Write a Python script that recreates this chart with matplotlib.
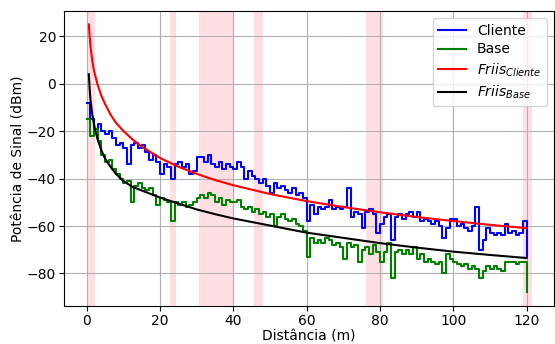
"""
Potência de sinal x distância — medições (Cliente/Base) e modelo de Friis
"""

import numpy as np
import matplotlib
matplotlib.use("Agg")
import matplotlib.pyplot as plt

# ── dados ──────────────────────────────────────────────────────────────
distancia = np.arange(0, 121, 1.0)  # amostras a cada 1 m

cliente = [
    -8, -15, -19, -17, -20, -21, -20, -23, -26, -25,
    -27, -34, -26, -25, -27, -26, -29, -32, -30, -33,
    -38, -34, -35, -40, -34, -33, -35, -34, -38, -37,
    -31, -31, -33, -30, -34, -35, -33, -36, -34, -35,
    -36, -33, -35, -40, -37, -39, -40, -42, -40, -43,
    -46, -42, -44, -43, -45, -46, -44, -47, -46, -48,
    -58, -51, -55, -52, -53, -52, -49, -53, -52, -53,
    -52, -44, -56, -54, -55, -61, -54, -53, -55, -63,
    -59, -56, -55, -66, -56, -55, -57, -55, -54, -56,
    -54, -58, -57, -58, -59, -58, -60, -65, -61, -57,
    -57, -60, -59, -61, -62, -60, -52, -70, -66, -61,
    -63, -64, -63, -64, -59, -63, -62, -64, -63, -58,
    -73,
]

base = [
    -15, -22, -19, -24, -30, -33, -32, -36, -38, -40,
    -42, -41, -50, -43, -42, -44, -45, -44, -47, -51,
    -48, -49, -50, -58, -50, -51, -50, -52, -51, -50,
    -48, -47, -48, -46, -47, -50, -48, -51, -49, -50,
    -50, -49, -52, -53, -52, -54, -53, -55, -54, -56,
    -55, -60, -56, -55, -57, -58, -57, -59, -60, -62,
    -73, -65, -67, -66, -67, -65, -66, -68, -67, -69,
    -74, -67, -69, -68, -75, -70, -69, -72, -68, -71,
    -75, -71, -67, -82, -71, -70, -72, -70, -72, -69,
    -74, -72, -75, -74, -75, -76, -75, -80, -72, -74,
    -75, -76, -77, -76, -78, -77, -78, -82, -79, -77,
    -78, -77, -78, -79, -75, -75, -75, -76, -75, -75,
    -88,
]

# curvas de Friis
d_friis = [0.6, 0.8, 1.0, 1.5, 2.0, 2.5, 3.0, 4.0, 5.0, 6.5, 8.0, 10, 12.5,
           15, 20, 25, 30, 35, 40, 50, 60, 70, 80, 90, 100, 110, 120]
friis_cliente = [25, 20.5, 16.5, 10, 5.5, 2.5, -0.5, -5, -8.5, -13, -16.5, -19.9, -23.5,
                 -26.5, -31.3, -35, -38, -40.6, -42.8, -46.5, -49.5, -52, -54.2,
                 -56.2, -57.9, -59.5, -60.9]
friis_base = [4, -1.5, -6, -12.5, -17, -20.5, -23.5, -28, -31.5, -35, -38, -41, -43.5,
              -45, -48, -50.5, -53, -55, -56.8, -59.8, -62.8, -65, -67.2,
              -69.1, -70.8, -72.2, -73.5]

# trechos destacados (m)
faixa_ini = [0.2, 22.7, 30.6, 45.6, 76.2, 119.0]
faixa_fim = [2.2, 24.5, 40.1, 48.1, 80.9, 121.4]

# ── gráfico ────────────────────────────────────────────────────────────
fig, ax = plt.subplots(figsize=(5.55, 3.44), dpi=100)
fig.subplots_adjust(left=0.116, right=0.998, bottom=0.111, top=0.968)

for ini, fim in zip(faixa_ini, faixa_fim):
    ax.axvspan(ini, fim, color="pink", alpha=0.5, linewidth=0)

ax.plot(distancia, cliente, color="blue", drawstyle="steps-post", label="Cliente")
ax.plot(distancia, base, color="green", drawstyle="steps-post", label="Base")
ax.plot(d_friis, friis_cliente, color="red", label=r"$Friis_{Cliente}$")
ax.plot(d_friis, friis_base, color="black", label=r"$Friis_{Base}$")

ax.tick_params(pad=2.5)
ax.set_xlabel("Distância (m)", labelpad=1)
ax.set_ylabel("Potência de Sinal (dBm)", labelpad=1)
ax.grid(True)
ax.legend(loc="upper right", labelspacing=0.35)

fig.savefig("out.png", dpi=100)
